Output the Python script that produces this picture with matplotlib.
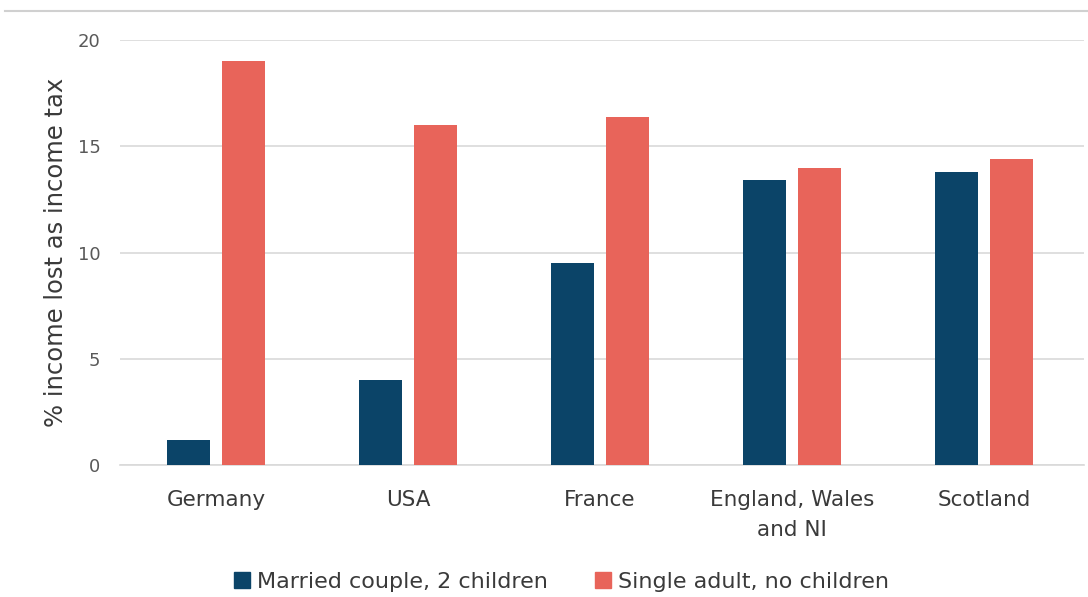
import matplotlib
matplotlib.use("Agg")
import matplotlib.pyplot as plt
import numpy as np
from matplotlib.lines import Line2D

categories = ["Germany", "USA", "France", "England, Wales\nand NI", "Scotland"]
married = [1.2, 4.0, 9.5, 13.4, 13.8]
single = [19.0, 16.0, 16.4, 14.0, 14.4]
series_names = ["Married couple, 2 children", "Single adult, no children"]
yticks = [0, 5, 10, 15, 20]

blue = "#0b4468"
red = "#e8645a"
txt = "#3a3a3a"

plt.rcParams['font.family'] = ['DejaVu Sans']
fig = plt.figure(figsize=(10.88, 5.97), dpi=100)
ax = fig.add_axes([120/1088, 1-465/597, (1084-120)/1088, (465-40)/597])

x = np.arange(len(categories))
w = 0.224
off = 0.143
ax.bar(x - off, married, w, color=blue, label=series_names[0], zorder=3)
ax.bar(x + off, single, w, color=red, label=series_names[1], zorder=3)

ax.set_xlim(-0.5, len(categories) - 0.5 + 0.02)
ax.set_ylim(0, 20)
ax.set_yticks(yticks)
ax.yaxis.grid(True, color="#d9d9d9", linewidth=1.2, zorder=0)
ax.set_axisbelow(True)
for s in ["top", "right", "left"]:
    ax.spines[s].set_visible(False)
ax.spines["bottom"].set_color("#d9d9d9")
ax.spines["bottom"].set_linewidth(1.2)
ax.tick_params(axis="y", length=0, pad=14, labelsize=13, labelcolor="#595959")
ax.tick_params(axis="x", length=0, pad=18, labelsize=15.5, labelcolor=txt)
ax.set_xticks(x)
ax.set_xticklabels(categories, linespacing=1.6)
ax.set_ylabel("% income lost as income tax", fontsize=17.5, color=txt, labelpad=7)

handles = [Line2D([0], [0], marker="s", color="none", markerfacecolor=c, markeredgecolor=c, markersize=11)
           for c in (blue, red)]
fig.legend(handles, series_names, loc="center", bbox_to_anchor=(560/1088, 1-582/597), ncol=2,
           frameon=False, fontsize=16, handletextpad=0.15, columnspacing=2.0, handlelength=1.0,
           labelcolor=txt)

fig.add_artist(Line2D([5/1088, 1], [1-11/597, 1-11/597], color="#d0d0d0", linewidth=1.5))

fig.savefig("out.png", dpi=100, facecolor="white")
